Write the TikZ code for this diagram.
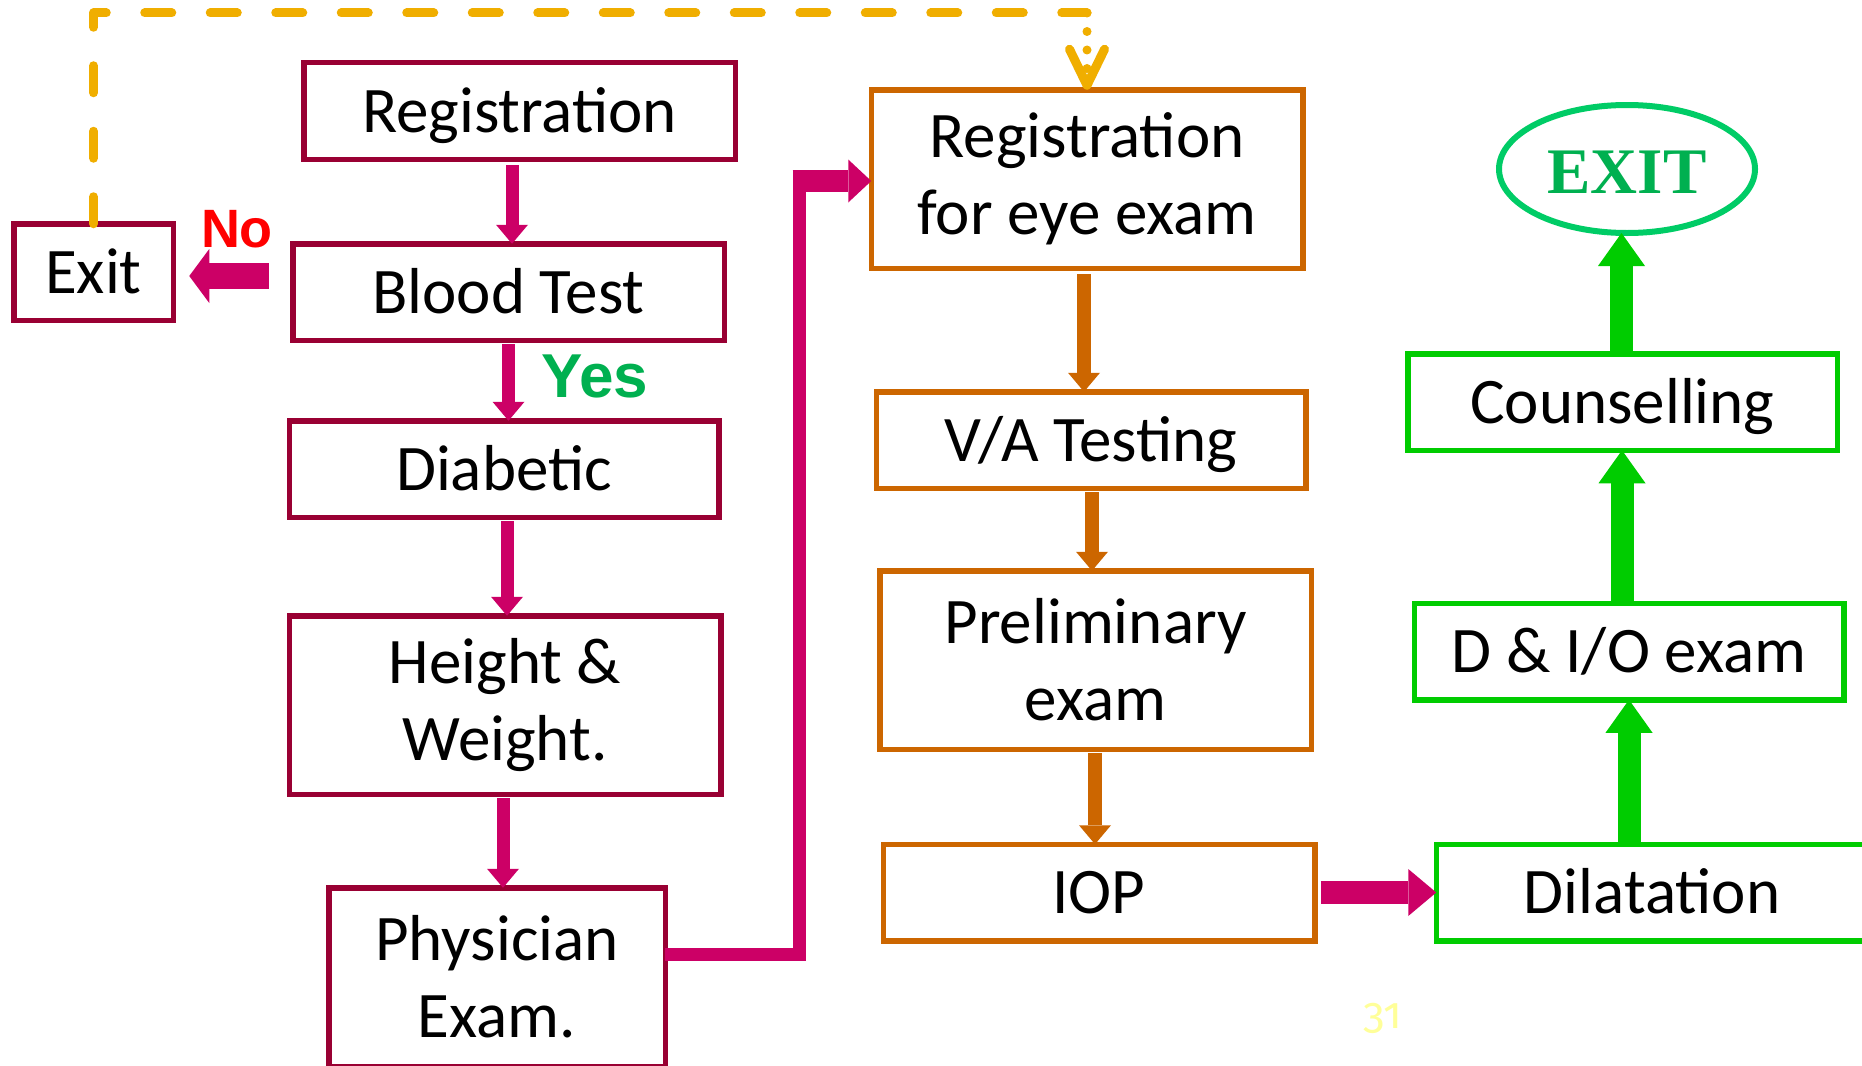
\documentclass[tikz,border=0pt]{standalone}
\usepackage{fontspec}
\setmainfont{Carlito}
\newfontfamily\labelfont{Liberation Sans}
\newfontfamily\exitfont{Liberation Serif}
\newfontfamily\pagefont{Fira Sans}[Numbers=OldStyle]
\usetikzlibrary{arrows.meta,shapes.geometric,calc}

\definecolor{boxmaroon}{HTML}{990033}
\definecolor{flowmag}{HTML}{CC0066}
\definecolor{eyeorange}{HTML}{CC6600}
\definecolor{dilgreen}{HTML}{00CC00}
\definecolor{exitring}{HTML}{00CC66}
\definecolor{exittext}{HTML}{00B050}
\definecolor{yesgreen}{HTML}{00B050}
\definecolor{notered}{HTML}{FF0000}
\definecolor{loopgold}{HTML}{F0AE00}
\definecolor{pagenum}{HTML}{FFFF99}

\begin{document}
\begin{tikzpicture}[x=1pt,y=-1pt,
  every node/.style={inner sep=0pt, outer sep=0pt},
  stepbase/.style={draw, line width=5.5pt, fill=white, align=center,
    font=\fontsize{65}{77}\selectfont},
  oneline/.style={stepbase, text height=52pt, text depth=10pt, minimum height=96.5pt},
  twoline/.style={stepbase, minimum height=178.5pt},
  wide/.style={minimum width=431.5pt},
  magdown/.style={draw=flowmag, line width=13pt,
    -{Triangle[length=19pt,width=32pt,line width=0pt]}},
  orgdown/.style={draw=eyeorange, line width=14pt,
    -{Triangle[length=19pt,width=32pt,line width=0pt]}},
  greenup/.style={draw=dilgreen, line width=23pt,
    -{Triangle[length=33pt,width=47pt,line width=0pt]}},
  magright/.style={draw=flowmag, line width=23pt,
    -{Triangle[length=28pt,width=47pt,line width=0pt]}},
  magleft/.style={draw=flowmag, line width=26pt,
    -{Triangle[length=20pt,width=54pt,line width=0pt]}},
  elbowline/.style={draw=flowmag, line width=13pt, line join=miter},
  elbowhead/.style={draw=flowmag, line width=22pt,
    -{Triangle[length=23pt,width=43pt,line width=0pt]}},
  loopdash/.style={draw=loopgold, line width=9pt, line cap=round, line join=round,
    dash pattern=on 27pt off 38.5pt},
  loopdot/.style={draw=loopgold, line width=9pt, line cap=round,
    dash pattern=on 0pt off 18.5pt,
    -{Straight Barb[length=36pt,width=35pt,line width=9pt,round]}}
]
% canvas
\path[use as bounding box, clip] (0,0) rectangle (1862,1065);
\fill[white] (0,0) rectangle (1862,1065);

% general check-up column
\node[oneline, wide, draw=boxmaroon] (reg1) at (519.5,111) {Registration};
\node[oneline, wide, draw=boxmaroon] (blood) at (508.5,292) {Blood Test};
\node[oneline, draw=boxmaroon, minimum width=159.5pt] (exit) at (93.5,272) {Exit};
\node[oneline, draw=boxmaroon, minimum width=429.5pt] (diab) at (504,469) {Diabetic};
\node[twoline, wide, draw=boxmaroon] (hw) at (505,705) {Height \&\\Weight.};
\node[twoline, draw=boxmaroon, minimum width=336.5pt] (phys) at (497,977) {Physician\\Exam.};

% eye examination column
\node[twoline, wide, draw=eyeorange] (reg2) at (1087,179) {Registration\\for eye exam};
\node[oneline, draw=eyeorange, minimum width=429.5pt] (va) at (1091,440) {V/A Testing};
\node[twoline, wide, draw=eyeorange] (prelim) at (1095.5,660) {Preliminary\\exam};
\node[oneline, wide, draw=eyeorange] (iop) at (1099,892.5) {IOP};

% dilated examination column
\node[oneline, wide, draw=dilgreen] (dil) at (1652,892.5) {Dilatation};
\node[oneline, draw=dilgreen, minimum width=429.5pt] (dio) at (1629,651.5) {D \& I/O exam};
\node[oneline, draw=dilgreen, minimum width=429.5pt] (couns) at (1622.5,402) {Counselling};
\node[ellipse, draw=exitring, line width=6pt, fill=white, minimum width=256pt,
  minimum height=128pt, text=exittext, text height=48pt, text depth=0pt,
  font=\exitfont\bfseries\fontsize{65}{70}\selectfont] (exitE) at (1627,169) {EXIT};

% decision labels and page number
\node[anchor=base, text=notered, font=\labelfont\bfseries\fontsize{54}{60}\selectfont]
  (nolabel) at (237,247) {No};
\node[anchor=base, text=yesgreen, font=\labelfont\bfseries\fontsize{62}{66}\selectfont]
  (yeslabel) at (595,397) {Yes};
\node[anchor=base, text=pagenum, font=\pagefont\fontsize{44}{50}\selectfont]
  (pageno) at (1383,1028) {31};

% left column flow
\draw[magdown] ($(reg1.south)+(-7.5,6)$) coordinate (s1) -- (s1 |- blood.north);
\draw[magdown] ($(blood.south)+(0,4)$) coordinate (s2) -- (s2 |- diab.north);
\draw[magdown] ($(diab.south)+(3,4)$) coordinate (s3) -- (s3 |- hw.north);
\draw[magdown] ($(hw.south)+(-2,4)$) coordinate (s4) -- (s4 |- phys.north);
\draw[magleft] ($(blood.west)+(-24,-16)$) coordinate (s5) -- ($(s5 -| exit.east)+(16,0)$);

% hand-over to the eye examination
\coordinate (bend) at (799,181);
\draw[elbowline] ($(phys.east)+(0,-23)$) -| (bend);
\draw[elbowhead] ($(bend)+(-6.5,0)$) -- (bend -| reg2.west);

% eye examination flow
\draw[orgdown] ($(reg2.south)+(-3,6)$) coordinate (s6) -- (s6 |- va.north);
\draw[orgdown] ($(va.south)+(1,4)$) coordinate (s7) -- (s7 |- prelim.north);
\draw[orgdown] ($(prelim.south)+(-0.5,4)$) coordinate (s8) -- (s8 |- iop.north);
\draw[magright] ($(iop.east)+(6,0)$) coordinate (s9) -- (s9 -| dil.west);

% dilated examination flow
\draw[greenup] ($(dil.north)+(-23,0)$) coordinate (s10) -- (s10 |- dio.south);
\draw[greenup] ($(dio.north)+(-7,0)$) coordinate (s11) -- (s11 |- couns.south);
\draw[greenup] ($(couns.north)+(-1,0)$) coordinate (s12) -- (s12 |- exitE.south);

% loop back from Exit to the eye examination
\coordinate (looptop) at (0,13);
\draw[loopdash] (exit.north) -- (exit.north |- looptop) -- (reg2.north |- looptop);
\draw[loopdot] (reg2.north |- looptop) -- (reg2.north);
\end{tikzpicture}
\end{document}
